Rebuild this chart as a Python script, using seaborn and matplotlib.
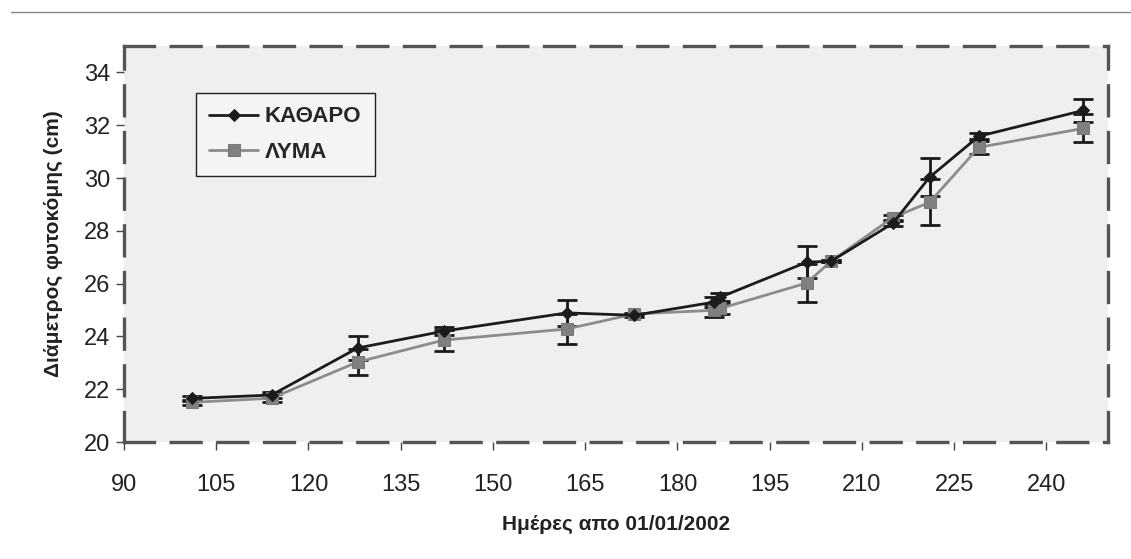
import numpy as np
import pandas as pd
import matplotlib
matplotlib.use("Agg")
import matplotlib.pyplot as plt
import seaborn as sns

# =====================================================================
# DATA
# =====================================================================
days = [101, 114, 128, 142, 162, 173, 186, 187, 201, 205, 215, 221, 229, 246]
katharo = [21.65, 21.78, 23.56, 24.2, 24.89, 24.8, 25.3, 25.49, 26.81, 26.85, 28.28, 30.03, 31.58, 32.56]
lyma = [21.5, 21.66, 23.03, 23.86, 24.28, 24.85, 24.99, 25.06, 26.02, 26.85, 28.5, 29.08, 31.16, 31.88]
err_katharo = [0.1, 0.12, 0.45, 0.15, 0.48, 0.05, 0.2, 0.15, 0.6, 0.05, 0.1, 0.72, 0.12, 0.44]
err_lyma = [0.1, 0.15, 0.5, 0.4, 0.58, 0.05, 0.25, 0.2, 0.72, 0.05, 0.1, 0.87, 0.26, 0.53]
series_names = ["ΚΑΘΑΡΟ", "ΛΥΜΑ"]
x_ticks = list(range(90, 241, 15))
y_ticks = list(range(20, 35, 2))

# =====================================================================
# STYLE
# =====================================================================
sns.set_style("white")
plt.rcParams["font.family"] = ["Liberation Sans", "DejaVu Sans"]

fig = plt.figure(figsize=(11.31, 5.59), dpi=100)
ax = fig.add_axes([0.1096, 0.2093, 0.870, 0.7084])
ax.set_facecolor("#efefef")

df = pd.DataFrame({"day": days, "katharo": katharo, "lyma": lyma})

# error bars first so lines sit on top
ax.errorbar(days, lyma, yerr=err_lyma, fmt="none", ecolor="#1a1a1a",
            elinewidth=2, capsize=7, capthick=2, zorder=2)
ax.errorbar(days, katharo, yerr=err_katharo, fmt="none", ecolor="#1a1a1a",
            elinewidth=2, capsize=7, capthick=2, zorder=2)

sns.lineplot(data=df, x="day", y="lyma", ax=ax, color="#8c8c8c", lw=2,
             marker="s", markersize=9, markeredgecolor="#7a7a7a",
             markerfacecolor="#808080", label=series_names[1], zorder=3)
sns.lineplot(data=df, x="day", y="katharo", ax=ax, color="#1c1c1c", lw=2,
             marker="D", markersize=6, markeredgecolor="#1c1c1c",
             markerfacecolor="#1c1c1c", label=series_names[0], zorder=4)

ax.set_xlim(90, 250)
ax.set_ylim(20, 35)
ax.set_xticks(x_ticks)
ax.set_yticks(y_ticks)
ax.tick_params(axis="both", direction="out", length=6, width=1, color="#444444",
               labelsize=17, labelcolor="#222222")
ax.tick_params(axis="x", pad=17)
ax.tick_params(axis="y", pad=4)
ax.tick_params(left=True, bottom=True)

for side, sp in ax.spines.items():
    sp.set_visible(True)
    sp.set_color("#555555")
    sp.set_linewidth(2.4)
    sp.set_linestyle((0, (9, 5)))

ax.set_xlabel("Ημέρες απο 01/01/2002", fontsize=15, fontweight="bold",
              color="#222222", labelpad=14)
ax.set_ylabel("Διάμετρος φυτοκόμης (cm)", fontsize=15, fontweight="bold",
              color="#222222", labelpad=15)

handles, labels = ax.get_legend_handles_labels()
order = [labels.index(n) for n in series_names]
leg = ax.legend([handles[i] for i in order], [labels[i] for i in order],
                loc="upper left", bbox_to_anchor=(0.073, 0.881), borderaxespad=0,
                frameon=True, fancybox=False, framealpha=1, edgecolor="#222222",
                facecolor="#f4f4f4", prop={"weight": "bold", "size": 16},
                handlelength=2.2, borderpad=0.6, labelspacing=0.65, handletextpad=0.3)
leg.get_frame().set_linewidth(1)

# thin rule along the top of the page
fig.add_artist(plt.Line2D([0.01, 1.0], [0.978, 0.978], color="#888888", lw=1))

plt.savefig("out.png", dpi=100)
